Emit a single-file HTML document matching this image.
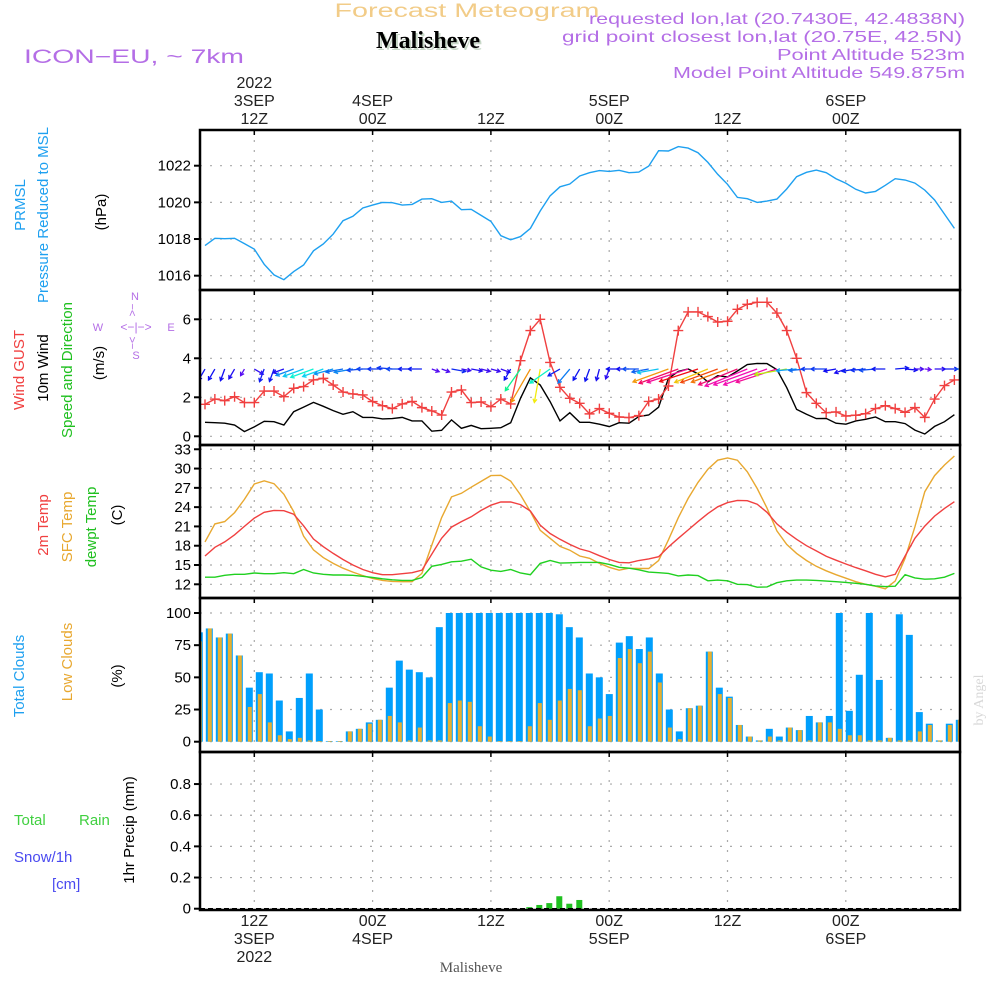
<!DOCTYPE html>
<html><head><meta charset="utf-8"><style>
html,body{margin:0;padding:0;background:#fff;width:1000px;height:1000px;overflow:hidden}
svg{display:block;font-family:"Liberation Sans",sans-serif}
</style></head><body>
<svg id="chart" width="1000" height="1000" viewBox="0 0 1000 1000">
<g>
<text x="467" y="17" font-size="19" fill="#f2cc88" text-anchor="middle" textLength="265" lengthAdjust="spacingAndGlyphs">Forecast Meteogram</text>
<text x="430" y="50" font-size="24" font-weight="bold" font-family="Liberation Serif,serif" fill="#c8d8c8" text-anchor="middle">Malisheve</text>
<text x="428" y="48" font-size="24" font-weight="bold" font-family="Liberation Serif,serif" fill="#000" text-anchor="middle">Malisheve</text>
<text x="24" y="63" font-size="19" fill="#b46ee6" textLength="220" lengthAdjust="spacingAndGlyphs">ICON−EU, ~ 7km</text>
<text x="965" y="24" font-size="16" fill="#b46ee6" text-anchor="end" textLength="376" lengthAdjust="spacingAndGlyphs">requested lon,lat (20.7430E, 42.4838N)</text>
<text x="962" y="42" font-size="16" fill="#b46ee6" text-anchor="end" textLength="400" lengthAdjust="spacingAndGlyphs">grid point closest lon,lat (20.75E, 42.5N)</text>
<text x="965" y="60" font-size="16" fill="#b46ee6" text-anchor="end" textLength="188" lengthAdjust="spacingAndGlyphs">Point Altitude 523m</text>
<text x="965" y="78" font-size="16" fill="#b46ee6" text-anchor="end" textLength="292" lengthAdjust="spacingAndGlyphs">Model Point Altitude 549.875m</text>
</g>
<g id="grid"></g>
<g id="marks"></g>
<g id="frames"></g>
<g id="axes" font-size="14" fill="#000"></g>
<g font-size="15">
<text transform="translate(25,205) rotate(-90)" fill="#1ea0f0" text-anchor="middle">PRMSL</text>
<text transform="translate(48,215) rotate(-90)" fill="#1ea0f0" text-anchor="middle">Pressure Reduced to MSL</text>
<text transform="translate(106,212) rotate(-90)" fill="#000" text-anchor="middle">(hPa)</text>
<text transform="translate(24,370) rotate(-90)" fill="#f04040" text-anchor="middle">Wind GUST</text>
<text transform="translate(48,368) rotate(-90)" fill="#000" text-anchor="middle">10m Wind</text>
<text transform="translate(72,370) rotate(-90)" fill="#20c020" text-anchor="middle">Speed and Direction</text>
<text transform="translate(104,363) rotate(-90)" fill="#000" text-anchor="middle">(m/s)</text>
<g fill="#b46ee6" font-size="11">
<text x="135" y="300" text-anchor="middle">N</text><text x="98" y="331" text-anchor="middle">W</text>
<text x="171" y="331" text-anchor="middle">E</text><text x="136" y="359" text-anchor="middle">S</text>
<text x="136" y="331" text-anchor="middle" font-size="12">&lt;−|−&gt;</text>
<text transform="translate(136,310) rotate(-90)" text-anchor="middle" font-size="11">&gt;−</text>
<text transform="translate(136,343) rotate(-90)" text-anchor="middle" font-size="11">−&lt;</text>
</g>
<text transform="translate(48,525) rotate(-90)" fill="#f04040" text-anchor="middle">2m Temp</text>
<text transform="translate(72,527) rotate(-90)" fill="#e8a830" text-anchor="middle">SFC Temp</text>
<text transform="translate(96,527) rotate(-90)" fill="#20c020" text-anchor="middle">dewpt Temp</text>
<text transform="translate(122,515) rotate(-90)" fill="#000" text-anchor="middle">(C)</text>
<text transform="translate(24,676) rotate(-90)" fill="#1ea0f0" text-anchor="middle">Total Clouds</text>
<text transform="translate(72,662) rotate(-90)" fill="#e8a830" text-anchor="middle">Low Clouds</text>
<text transform="translate(122,676) rotate(-90)" fill="#000" text-anchor="middle">(%)</text>
<text x="14" y="825" fill="#40d040">Total</text>
<text x="79" y="825" fill="#40d040">Rain</text>
<text x="14" y="862" fill="#4a4af0">Snow/1h</text>
<text x="52" y="889" fill="#4a4af0">[cm]</text>
<text transform="translate(134,830) rotate(-90)" fill="#000" text-anchor="middle">1hr Precip (mm)</text>
<text transform="translate(983,700) rotate(-90)" fill="#d8d8d8" font-family="Liberation Serif,serif" text-anchor="middle" font-size="14">by Angel</text>
<text x="471" y="972" fill="#555" font-family="Liberation Serif,serif" font-size="15" text-anchor="middle">Malisheve</text>
</g>
</svg>
<script>
const pressure=[1017.64,1018.04,1018.02,1018.04,1017.75,1017.45,1016.62,1016.04,1015.78,1016.22,1016.58,1017.36,1017.73,1018.27,1019.0,1019.24,1019.69,1019.85,1020.0,1019.98,1019.85,1019.89,1020.18,1020.2,1020.0,1020.07,1019.6,1019.62,1019.29,1018.96,1018.18,1017.96,1018.13,1018.58,1019.53,1020.36,1020.85,1021.0,1021.44,1021.62,1021.73,1021.69,1021.75,1021.62,1021.65,1021.98,1022.82,1022.8,1023.04,1022.96,1022.71,1022.18,1021.53,1020.98,1020.27,1020.2,1020.0,1020.07,1020.18,1020.73,1021.4,1021.64,1021.76,1021.62,1021.29,1021.04,1020.71,1020.51,1020.6,1020.93,1021.29,1021.22,1021.05,1020.67,1020.13,1019.36,1018.58];
const gust=[1.64,1.91,1.83,2.03,1.73,1.73,2.32,2.32,2.03,2.46,2.55,2.89,2.97,2.63,2.27,2.17,2.12,1.78,1.57,1.42,1.66,1.79,1.47,1.3,1.09,2.27,2.38,1.73,1.76,1.52,1.91,1.66,3.88,5.42,6.0,3.79,2.51,1.95,1.69,1.15,1.42,1.18,0.99,0.96,1.06,1.79,1.91,2.58,5.42,6.38,6.38,6.14,5.86,5.9,6.51,6.77,6.87,6.87,6.32,5.42,4.0,2.24,1.69,1.21,1.25,1.04,1.08,1.16,1.42,1.57,1.42,1.23,1.47,0.97,1.91,2.6,2.89];
const windSpeed=[0.72,0.7,0.67,0.58,0.24,0.48,0.77,0.75,0.58,1.26,1.5,1.74,1.54,1.32,1.13,1.26,0.97,0.97,0.89,0.91,0.97,0.79,0.79,0.26,0.31,0.84,0.41,0.56,0.39,0.41,0.44,0.7,1.95,3.0,2.63,1.78,0.79,1.21,0.72,0.72,0.62,0.5,0.7,0.67,1.01,1.09,1.49,2.97,3.33,3.45,3.21,2.79,3.11,3.04,3.35,3.68,3.74,3.73,3.42,2.5,1.38,1.13,0.91,0.92,0.67,0.62,0.79,0.87,0.99,0.75,0.75,0.65,0.32,0.12,0.51,0.75,1.11];
const windDir=[30,30,20,30,30,300,20,20,70,70,70,70,70,75,80,80,85,90,90,95,90,90,90,290,290,280,280,280,285,285,290,30,35,30,10,55,60,40,30,20,15,20,90,90,90,80,80,70,70,72,72,68,70,70,68,68,70,70,72,80,85,85,90,90,80,70,80,85,85,90,265,275,270,275,270,270,270];
const temp2m=[16.4,17.75,18.6,19.7,21.0,22.3,23.2,23.5,23.45,22.9,21.1,19.05,17.85,16.8,15.85,15.0,14.3,13.8,13.5,13.5,13.65,13.8,14.2,16.7,19.15,20.9,21.75,22.5,23.5,24.3,24.8,24.8,24.4,23.4,21.2,19.9,19.0,18.2,17.5,17.1,16.45,15.85,15.4,15.35,15.7,15.95,16.3,17.8,19.15,20.45,21.75,23.0,24.05,24.7,25.05,25.0,24.45,23.2,21.4,20.1,19.0,18.0,17.2,16.35,15.75,15.15,14.6,14.1,13.55,13.15,13.55,16.4,19.15,21.05,22.6,23.8,24.85];
const tempSfc=[18.6,21.4,21.75,23.15,25.2,27.6,28.1,27.65,26.0,23.3,19.5,17.35,16.15,15.25,14.5,13.9,13.35,12.9,12.6,12.45,12.4,12.4,13.7,18.1,22.35,25.6,26.15,27.1,28.0,28.9,28.95,28.05,25.9,23.3,20.4,19.15,17.9,17.3,16.4,16.05,15.25,14.65,14.2,14.5,14.45,14.45,15.7,18.9,22.35,25.35,27.85,29.9,31.3,31.65,31.3,29.5,26.9,23.85,20.3,18.2,16.8,15.7,14.8,14.1,13.5,12.95,12.4,12.0,11.7,11.3,12.5,16.05,20.95,26.4,28.9,30.55,31.95];
const dewpt=[13.1,13.1,13.4,13.55,13.55,13.75,13.65,13.65,13.8,13.65,14.3,13.75,13.55,13.45,13.45,13.4,13.25,13.05,12.85,12.7,12.6,12.6,13.05,14.8,15.1,15.5,15.6,15.9,14.7,14.2,14.0,14.3,13.75,13.5,15.25,15.7,15.3,15.35,15.4,15.4,15.4,15.1,14.65,14.5,14.25,13.9,13.8,13.7,13.3,13.45,13.35,12.55,12.65,12.55,12.0,11.95,11.55,11.6,12.25,12.55,12.65,12.65,12.6,12.5,12.4,12.3,12.15,12.0,11.75,11.65,11.7,13.5,13.0,12.8,12.85,13.1,13.7];
const totalClouds=[85,88,81,84,67,42,54,53,32,8,34,53,25,0.5,0.5,8,10,15,17,42,63,56,54,50,89,100,100,100,100,100,100,100,100,100,100,100,99,89,81,53,50,37,77,82,72,81,53,25,8,26,28,70,42,35,13,4,1,10,4,11,9,20,15,20,100,24,52,100,48,3,99,83,23,14,1,14,17];
const lowClouds=[78,88,81,84,67,27,37,15,5,2,3,1,0.5,0.5,0.5,8,10,14,17,20,15,1,11,1,1,30,32,31,12,4,0.5,0.5,0.5,12,30,17,32,41,40,12,18,20,65,72,61,70,46,11,2,26,28,70,37,34,13,4,1,4,1,11,9,1,15,15,10,5,5,1,1,3,1,1,8,13,1,13,17];
const precip=[0,0,0,0,0,0,0,0,0,0,0,0,0,0,0,0,0,0,0,0,0,0,0,0,0,0,0,0,0,0,0,0,0,0.01,0.024,0.036,0.08,0.032,0.056,0,0,0,0,0,0,0,0,0,0,0,0,0,0,0,0,0,0,0,0,0,0,0,0,0,0,0,0,0,0,0,0,0,0,0,0,0,0];
const pressureTicks=[1016,1018,1020,1022];
const windTicks=[0,2,4,6];
const tempTicks=[12,15,18,21,24,27,30,33];
const cloudTicks=[0,25,50,75,100];
const precipTicks=[0,0.2,0.4,0.6,0.8];
const precipTickLabels=["0","0.2","0.4","0.6","0.8"];
const timeTicksTop=[["2022","3SEP","12Z"],["","4SEP","00Z"],["","","12Z"],["","5SEP","00Z"],["","","12Z"],["","6SEP","00Z"]];
const timeTicksBottom=[["12Z","3SEP","2022"],["00Z","4SEP",""],["12Z","",""],["00Z","5SEP",""],["12Z","",""],["00Z","6SEP",""]];

const NS="http://www.w3.org/2000/svg";
const X0=200,X1=960;
const xl=i=>205+i*9.86;
const xb=i=>199.3+i*10;
const xt=j=>254.3+j*118.3;
const panels={
 p:{top:130,bot:290,y:v=>165.7+(1022-v)*18.33},
 w:{top:290,bot:445,y:v=>436.3-v*19.5},
 t:{top:445,bot:598,y:v=>584.3-(v-12)*6.43},
 c:{top:598,bot:752,y:v=>741.7-v*1.287},
 r:{top:752,bot:910,y:v=>908.7-v*155.8}
};
function el(tag,attrs,parent){const e=document.createElementNS(NS,tag);for(const k in attrs)e.setAttribute(k,attrs[k]);parent.appendChild(e);return e;}
const grid=document.getElementById('grid'),marks=document.getElementById('marks'),frames=document.getElementById('frames'),axes=document.getElementById('axes');

function yGrid(P,ticks,name,labels){
 ticks.forEach((v,i)=>{
  const y=P.y(v);
  const g=el('line',{x1:X0,x2:X1,y1:y,y2:y,stroke:'#aaa','stroke-width':1.2,'stroke-dasharray':'2 8'},grid);
  
  
  const t=el('line',{x1:X0-6,x2:X0,y1:y,y2:y,stroke:'#000','stroke-width':2},axes);
  
  
  const tx=el('text',{x:X0-9,y:y+5,'text-anchor':'end','font-size':15},axes);
  tx.textContent=labels?labels[i]:String(v);
  
  
 });
}
yGrid(panels.p,pressureTicks,'pressure-axis');
yGrid(panels.w,windTicks,'wind-axis');
yGrid(panels.t,tempTicks,'temp-axis');
yGrid(panels.c,cloudTicks,'cloud-axis');
yGrid(panels.r,precipTicks,'precip-axis',precipTickLabels);

for(let j=0;j<timeTicksTop.length;j++){
 const x=xt(j);
 const v=el('line',{x1:x,x2:x,y1:130,y2:910,stroke:'#aaa','stroke-width':1.2,'stroke-dasharray':'2 8'},grid);
 
 
 ['p','w','t','c','r'].forEach(k=>{
  const m=el('line',{x1:x,x2:x,y1:panels[k].top,y2:panels[k].top+5,stroke:'#000','stroke-width':1.5},axes);
  
  
 });
 const top=timeTicksTop[j];
 [88,106,124].forEach((yy,r)=>{ if(top[r]){const t=el('text',{x:x,y:yy,'text-anchor':'middle','font-size':16,fill:'#222'},axes);t.textContent=top[r];
  
  }});
 const bot=timeTicksBottom[j];
 [926,944,962].forEach((yy,r)=>{ if(bot[r]){const t=el('text',{x:x,y:yy,'text-anchor':'middle','font-size':16,fill:'#222'},axes);t.textContent=bot[r];
  
  }});
}

function line(P,arr,color,name,w){
 const pts=arr.map((v,i)=>xl(i).toFixed(1)+','+P.y(v).toFixed(1)).join(' ');
 const pl=el('polyline',{points:pts,fill:'none',stroke:color,'stroke-width':w||1.4},marks);
 
 
}
line(panels.p,pressure,'#1ea0f0','pressure-line');
line(panels.t,tempSfc,'#e8a830','sfc-temp-line');
line(panels.t,temp2m,'#f04040','temp-2m-line');
line(panels.t,dewpt,'#20d020','dewpt-line');
line(panels.w,windSpeed,'#000','wind-speed-line');
line(panels.w,gust,'#f04040','gust-line');
gust.forEach((v,i)=>{
 const x=xl(i),y=panels.w.y(v);
 const p=el('path',{d:`M${x-5},${y}H${x+5}M${x},${y-5}V${y+5}`,stroke:'#f04040','stroke-width':1.4},marks);
 
 
});
function windColor(s){
 const stops=[[0,270],[0.8,235],[1.4,200],[2.0,150],[2.6,60],[3.0,35],[3.4,325],[4,310]];
 for(let k=1;k<stops.length;k++){if(s<=stops[k][0]){const a=stops[k-1],b=stops[k];const f=(s-a[0])/(b[0]-a[0]);let h=a[1]+(b[1]-a[1]>180?(b[1]-360-a[1]):(b[1]-a[1]))*f;h=(h+360)%360;return `hsl(${h},90%,50%)`;}}
 return 'hsl(310,90%,50%)';
}
const arrowY=panels.w.y(3.45);
windDir.forEach((d,i)=>{
 const s=windSpeed[i];const L=5+s*11;
 const ang=(d+180)*Math.PI/180;
 const dx=Math.sin(ang)*L,dy=-Math.cos(ang)*L;
 const x0=xl(i),y0=arrowY,x1=x0+dx,y1=y0+dy;
 const ux=dx/L,uy=dy/L,hl=4;
 const ax=x1-hl*(ux*0.87-uy*0.5),ay=y1-hl*(uy*0.87+ux*0.5);
 const bx=x1-hl*(ux*0.87+uy*0.5),by=y1-hl*(uy*0.87-ux*0.5);
 const c=windColor(s);
 const p=el('path',{d:`M${x0},${y0}L${x1},${y1}M${ax},${ay}L${x1},${y1}L${bx},${by}`,stroke:c,'stroke-width':1.3,fill:'none'},marks);
 
 
});
const cb=panels.c.y(0);
totalClouds.forEach((v,i)=>{
 const x=xb(i),y=panels.c.y(v);
 const r=el('rect',{x:x-3.5,y:y,width:7,height:Math.max(cb-y,0.5),fill:'#009ffc'},marks);
 
 
});
lowClouds.forEach((v,i)=>{
 const x=xb(i),y=panels.c.y(v);
 const r=el('rect',{x:x-1.5,y:y,width:4,height:Math.max(cb-y,0.5),fill:'#e8b030'},marks);
 
 
});
const rb=panels.r.y(0);
precip.forEach((v,i)=>{
 if(v<=0)return;
 const x=xb(i),y=panels.r.y(v);
 const r=el('rect',{x:x-3,y:y,width:6,height:rb-y,fill:'#20c020'},marks);
 
 
});
const zl=el('line',{x1:X0,x2:X1,y1:rb,y2:rb,stroke:'#000','stroke-width':1.5,'stroke-dasharray':'5 3'},marks);


const clip=el('clipPath',{id:'pc'},document.getElementById('chart'));
el('rect',{x:X0,y:130,width:X1-X0,height:780},clip);
marks.setAttribute('clip-path','url(#pc)');
['p','w','t','c','r'].forEach(k=>{
 const P=panels[k];
 const f=el('rect',{x:X0,y:P.top,width:X1-X0,height:P.bot-P.top,fill:'none',stroke:'#000','stroke-width':2.5},frames);
 
 
});
</script>
</body></html>
